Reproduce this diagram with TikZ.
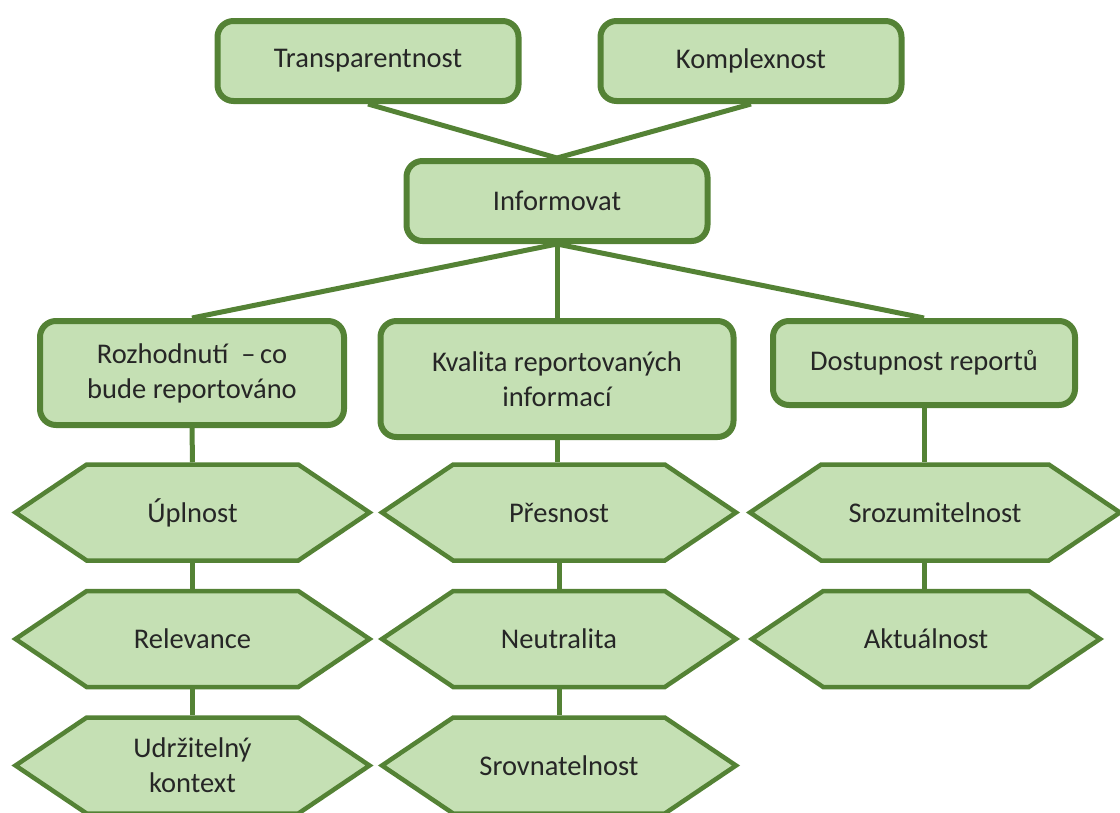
\documentclass[tikz,border=0pt]{standalone}
\usepackage{fontspec}
\setmainfont{Carlito}
\usetikzlibrary{shapes.symbols}
\definecolor{leafline}{HTML}{548235}
\definecolor{leaffill}{HTML}{C5E0B4}

\begin{document}
\begin{tikzpicture}[x=1pt, y=-1pt,
  box/.style={draw=leafline, fill=leaffill, line width=6pt, rounded corners=16pt,
    align=center, inner sep=0pt, text=black!85, font=\fontsize{28.5}{35}\selectfont},
  hexa/.style={signal, signal to=west and east, signal from=nowhere,
    signal pointer angle=68, draw=leafline, fill=leaffill, line width=4.5pt,
    minimum height=96pt, align=center, inner sep=0pt, text=black!85,
    font=\fontsize{28.5}{35}\selectfont},
  link/.style={leafline, line width=5pt}]
\useasboundingbox (0,0) rectangle (1120,812);
\clip (0,0) rectangle (1120,812);

%the top
\node [box, minimum width=301pt, minimum height=80pt] (tr) at (368,61) {Transparentnost};
\node [box, minimum width=301pt, minimum height=80pt] (kom) at (751,61) {Komplexnost};
\node [box, minimum width=301pt, minimum height=80pt] (inf) at (557,201) {Informovat};

%the three areas
\node [box, minimum width=304pt, minimum height=104pt] (roz) at (192,373) {Rozhodnutí \ --\,co\\bude reportováno};
\node [box, minimum width=353pt, minimum height=116pt] (kval) at (557,379) {Kvalita reportovaných\\informací};
\node [box, minimum width=302pt, minimum height=84pt] (dost) at (924,363) {Dostupnost reportů};

%the criteria
\node [hexa, minimum width=354pt] (upl) at (192.5,512.5) {Úplnost};
\node [hexa, minimum width=354pt] (rel) at (192.5,639) {Relevance};
\node [hexa, minimum width=354pt] (udr) at (192.5,765.5) {Udržitelný\\kontext};

\node [hexa, minimum width=354pt] (pres) at (559,512.5) {Přesnost};
\node [hexa, minimum width=354pt] (neut) at (559,639) {Neutralita};
\node [hexa, minimum width=354pt] (srov) at (559,765.5) {Srovnatelnost};

\node [hexa, minimum width=370pt] (sroz) at (935,512.5) {Srozumitelnost};
\node [hexa, minimum width=348pt] (akt) at (926,639) {Aktuálnost};

%the links
\draw [link] (tr.south) -- (inf.north);
\draw [link] (kom.south) -- (inf.north);
\draw [link] (inf.south) -- (roz.north);
\draw [link] (inf.south) -- (kval.north);
\draw [link] (inf.south) -- (dost.north);

\draw [link] (roz.south) -- (upl.north);
\draw [link] (upl.south) -- (rel.north);
\draw [link] (rel.south) -- (udr.north);
\draw [link] (kval.south) -- (kval.south |- pres.north);
\draw [link] (pres.south) -- (neut.north);
\draw [link] (neut.south) -- (srov.north);
\draw [link] (dost.south) -- (dost.south |- sroz.north);
\draw [link] (dost.south |- sroz.south) -- (dost.south |- akt.north);
\end{tikzpicture}
\end{document}
